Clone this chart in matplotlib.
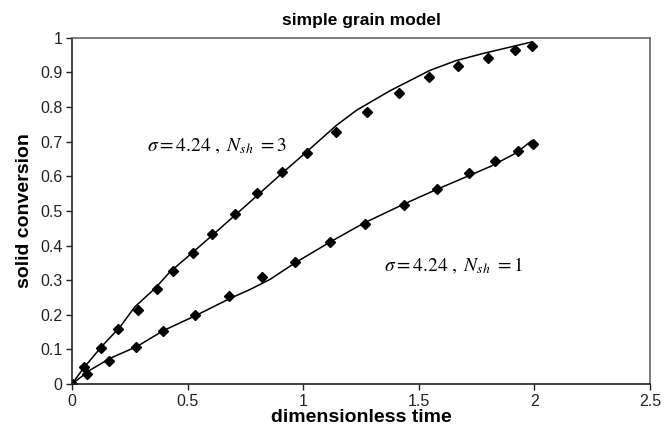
import numpy as np
import matplotlib
matplotlib.use("Agg")
import matplotlib.pyplot as plt

plt.rcParams['font.family'] = ['Liberation Sans', 'DejaVu Sans']
plt.rcParams['mathtext.fontset'] = 'stix'

# experimental points, N_sh = 3
x_pts3 = [0, 0.053, 0.125, 0.2, 0.285, 0.369, 0.438, 0.525, 0.606, 0.703, 0.799, 0.907,
          1.018, 1.142, 1.274, 1.414, 1.543, 1.67, 1.80, 1.917, 1.99]
y_pts3 = [0, 0.048, 0.104, 0.158, 0.215, 0.274, 0.327, 0.378, 0.433, 0.490, 0.551, 0.611,
          0.666, 0.729, 0.787, 0.841, 0.886, 0.920, 0.942, 0.964, 0.976]

# experimental points, N_sh = 1
x_pts1 = [0, 0.066, 0.161, 0.275, 0.392, 0.532, 0.678, 0.822, 0.965, 1.116, 1.266,
          1.436, 1.58, 1.717, 1.83, 1.928, 1.993]
y_pts1 = [0, 0.028, 0.066, 0.107, 0.152, 0.200, 0.254, 0.309, 0.353, 0.411, 0.462,
          0.517, 0.564, 0.609, 0.643, 0.673, 0.692]

# model curves
x_mod3 = [0, 0.049, 0.128, 0.208, 0.272, 0.359, 0.424, 0.496, 0.611, 0.77, 0.907, 1.0,
          1.145, 1.231, 1.375, 1.548, 1.66, 1.779, 1.988]
y_mod3 = [0, 0.045, 0.108, 0.165, 0.223, 0.276, 0.324, 0.365, 0.432, 0.526, 0.608, 0.662,
          0.748, 0.791, 0.847, 0.906, 0.934, 0.955, 0.988]

x_mod1 = [0, 0.078, 0.164, 0.28, 0.395, 0.539, 0.683, 0.77, 0.856, 0.965, 1.116, 1.26,
          1.433, 1.577, 1.707, 1.808, 1.923, 1.988]
y_mod1 = [0, 0.040, 0.074, 0.108, 0.154, 0.199, 0.247, 0.273, 0.302, 0.350, 0.410, 0.464,
          0.519, 0.562, 0.599, 0.628, 0.668, 0.703]

fig = plt.figure(figsize=(6.64, 4.30), dpi=100)
ax = fig.add_axes([0.1084, 0.107, 0.8706, 0.805])

ax.plot(x_mod3, y_mod3, color='black', linewidth=1.1)
ax.plot(x_mod1, y_mod1, color='black', linewidth=1.1)
ax.plot(x_pts3, y_pts3, 'D', color='black', markersize=5)
ax.plot(x_pts1, y_pts1, 'D', color='black', markersize=5)

ax.set_xlim(0, 2.5)
ax.set_ylim(0, 1)
ax.set_xticks([0, 0.5, 1, 1.5, 2, 2.5])
ax.set_xticklabels(['0', '0.5', '1', '1.5', '2', '2.5'])
ax.set_yticks(np.arange(0, 1.01, 0.1))
ax.set_yticklabels(['0', '0.1', '0.2', '0.3', '0.4', '0.5', '0.6', '0.7', '0.8', '0.9', '1'])
ax.tick_params(direction='out', length=4, width=1, labelsize=11.5, colors='#222222', pad=3)

for s in ['left', 'bottom']:
    ax.spines[s].set_color('#222222')
    ax.spines[s].set_linewidth(1.2)
for s in ['top', 'right']:
    ax.spines[s].set_color('#666666')
    ax.spines[s].set_linewidth(1.2)

ax.set_xlabel('dimensionless time', fontsize=14, fontweight='bold', labelpad=0)
ax.set_ylabel('solid conversion', fontsize=14, fontweight='bold', labelpad=5)
ax.set_title('simple grain model', fontsize=12.5, fontweight='bold', pad=9)

ax.text(0.324, 0.687, r'$\sigma = \mathrm{4.24}\ ,\ N_{sh}\ \mathrm{=3}$', fontsize=14,
        va='center', ha='left')
ax.text(1.35, 0.341, r'$\sigma = \mathrm{4.24}\ ,\ N_{sh}\ \mathrm{=1}$', fontsize=14,
        va='center', ha='left')

fig.savefig('out.png', dpi=100)
